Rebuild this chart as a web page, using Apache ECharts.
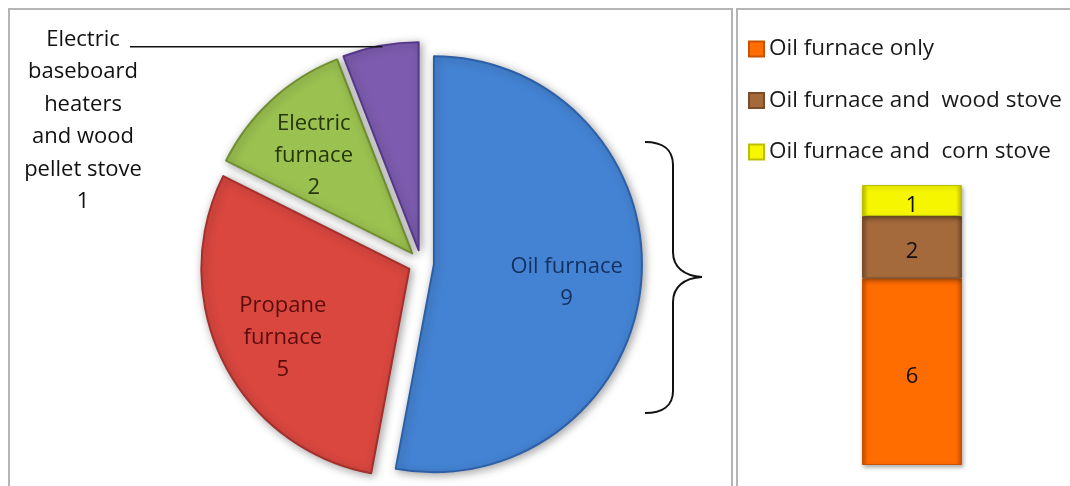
<!DOCTYPE html>
<html>
<head>
<meta charset="utf-8">
<script src="https://cdn.jsdelivr.net/npm/echarts@6/dist/echarts.min.js"></script>
<style>
  html, body { margin: 0; padding: 0; background: #ffffff; }
  #chart { width: 1070px; height: 486px; }
</style>
</head>
<body>
<div id="chart"></div>
<script>
// Heating systems: main pie
const pieNames = ['Oil furnace', 'Propane furnace', 'Electric furnace', 'Electric baseboard heaters and wood pellet stove'];
const pieLabels = ['Oil furnace', 'Propane\nfurnace', 'Electric\nfurnace', 'Electric\nbaseboard\nheaters\nand wood\npellet stove'];
const pieValues = [9, 5, 2, 1];

// Breakdown of the oil furnace homes
const barCategories = ['Oil furnace'];
const barNames = ['Oil furnace only', 'Oil furnace and  wood stove', 'Oil furnace and  corn stove'];
const barValues = [6, 2, 1];

const FONT = 'Open Sans';

const pieFill = ['#4483d3', '#d9473f', '#9bc150', '#7d5caf'];
const pieEdge = ['#2c5fa6', '#a3302c', '#6f9030', '#55388a'];
const pieText = ['#14305e', '#5a0c0c', '#26360a', '#111111'];
// label box padding (top, right, bottom, left) nudging each in-slice label sideways
const pieLabelPad = [[0, 14, 0, 0], [0, 2, 0, 0], [0, 8, 0, 0], [0, 0, 0, 0]];

const barFill = ['#ff6c00', '#a46a3c', '#f6f600'];
const barEdge = ['#c95200', '#7a4c28', '#bdbd00'];

function sliceStyle(i) {
  return {
    color: pieFill[i],
    borderColor: pieEdge[i],
    borderWidth: 2,
    shadowBlur: 8,
    shadowOffsetX: 2,
    shadowOffsetY: 2,
    shadowColor: 'rgba(0,0,0,0.35)'
  };
}

function barStyle(i) {
  return {
    color: {
      type: 'linear', x: 0, y: 0, x2: 1, y2: 0,
      colorStops: [
        { offset: 0, color: barEdge[i] },
        { offset: 0.06, color: barFill[i] },
        { offset: 0.94, color: barFill[i] },
        { offset: 1, color: barEdge[i] }
      ]
    },
    borderColor: barEdge[i],
    borderWidth: 1,
    shadowBlur: 4,
    shadowOffsetX: 1,
    shadowOffsetY: 2,
    shadowColor: 'rgba(0,0,0,0.3)'
  };
}

const PIE_CENTER = [421, 263];
const LABEL_CENTER = [421, 269];
const PIE_R = 208;
const OFFSET = 13;

// slices (all pulled out from the centre)
const mainPieData = pieValues.map((v, i) => {
  const st = sliceStyle(i);
  return {
    name: pieNames[i],
    value: v,
    selected: true,
    itemStyle: st,
    select: { itemStyle: st },
    label: { show: false },
    labelLine: { show: false }
  };
});

// transparent ring carrying the in-slice labels further out than mid-radius
const labelPieData = pieValues.map((v, i) => ({
  name: pieNames[i],
  value: v,
  selected: true,
  itemStyle: { color: 'rgba(0,0,0,0)' },
  select: { itemStyle: { color: 'rgba(0,0,0,0)' } },
  label: {
    show: i !== 3,
    position: 'inside',
    color: pieText[i],
    fontFamily: FONT,
    fontSize: 22,
    lineHeight: 32,
    align: 'center',
    padding: pieLabelPad[i],
    formatter: () => pieLabels[i] + '\n' + v
  },
  labelLine: { show: false }
}));

// smallest slice: label at the left, joined by a leader line to the middle of its arc
const total = pieValues.reduce((a, b) => a + b, 0);
const before = pieValues.slice(0, 3).reduce((a, b) => a + b, 0);
const midDeg = 90 - 360 * (before + pieValues[3] / 2) / total;
const midRad = midDeg * Math.PI / 180;
const arcMid = [
  PIE_CENTER[0] + (PIE_R + OFFSET) * Math.cos(midRad),
  PIE_CENTER[1] - (PIE_R + OFFSET) * Math.sin(midRad)
];
const smallLabel = [
  {
    type: 'line', z: 20, silent: true,
    shape: { x1: arcMid[0] + 2, y1: arcMid[1] + 1, x2: 130, y2: arcMid[1] + 1 },
    style: { stroke: '#111111', lineWidth: 1.6 }
  },
  {
    type: 'text', z: 20, silent: true,
    style: {
      text: pieLabels[3] + '\n' + pieValues[3],
      x: 83, y: 23,
      align: 'center',
      verticalAlign: 'top',
      fontFamily: FONT,
      fontSize: 22,
      lineHeight: 32.5,
      fill: '#111111'
    }
  }
];

const barSeries = barNames.map((name, i) => ({
  name: name,
  type: 'bar',
  stack: 'oil',
  barWidth: '100%',
  data: [barValues[i]],
  itemStyle: barStyle(i),
  label: {
    show: true,
    position: 'inside',
    offset: [0, 5],
    color: '#111111',
    fontFamily: FONT,
    fontSize: 22
  },
  emphasis: { disabled: true }
}));

// curly brace grouping the oil furnace slice
const braceStyle = { fill: 'none', stroke: '#111111', lineWidth: 2 };
const brace = [
  { type: 'bezierCurve', shape: { x1: 645, y1: 142, cpx1: 662, cpy1: 142, cpx2: 673, cpy2: 149, x2: 673, y2: 165 } },
  { type: 'line', shape: { x1: 673, y1: 165, x2: 673, y2: 252 } },
  { type: 'bezierCurve', shape: { x1: 673, y1: 252, cpx1: 673, cpy1: 267, cpx2: 684, cpy2: 276, x2: 702, y2: 277 } },
  { type: 'bezierCurve', shape: { x1: 702, y1: 277, cpx1: 684, cpy1: 278, cpx2: 673, cpy2: 287, x2: 673, y2: 302 } },
  { type: 'line', shape: { x1: 673, y1: 302, x2: 673, y2: 391 } },
  { type: 'bezierCurve', shape: { x1: 673, y1: 391, cpx1: 673, cpy1: 406, cpx2: 662, cpy2: 413, x2: 645, y2: 413 } }
].map(el => Object.assign(el, { z: 10, silent: true, style: braceStyle }));

const option = {
  animation: false,
  backgroundColor: '#ffffff',
  graphic: [
    {
      type: 'rect', z: -10, silent: true,
      shape: { x: 9, y: 9, width: 723, height: 520 },
      style: { fill: 'none', stroke: '#b4b4b4', lineWidth: 2 }
    },
    {
      type: 'rect', z: -10, silent: true,
      shape: { x: 737, y: 9, width: 400, height: 520 },
      style: { fill: 'none', stroke: '#b4b4b4', lineWidth: 2 }
    }
  ].concat(brace, smallLabel),
  legend: {
    data: barNames,
    orient: 'vertical',
    left: 748,
    top: 37,
    padding: 0,
    itemWidth: 15,
    itemHeight: 15,
    itemGap: 27.5,
    icon: 'rect',
    textStyle: {
      fontFamily: FONT,
      fontSize: 22.5,
      lineHeight: 24,
      color: '#1a1a1a'
    }
  },
  grid: { left: 862, top: 185, width: 100, bottom: 21 },
  xAxis: { type: 'category', data: barCategories, show: false },
  yAxis: { type: 'value', min: 0, max: 9, show: false },
  series: [
    {
      type: 'pie',
      center: PIE_CENTER,
      radius: PIE_R,
      startAngle: 90,
      clockwise: true,
      selectedMode: 'multiple',
      selectedOffset: OFFSET,
      avoidLabelOverlap: false,
      emphasis: { scale: false },
      data: mainPieData
    },
    {
      type: 'pie',
      center: LABEL_CENTER,
      radius: PIE_R * 1.32,
      startAngle: 90,
      clockwise: true,
      selectedMode: 'multiple',
      selectedOffset: OFFSET,
      silent: true,
      z: 5,
      avoidLabelOverlap: false,
      emphasis: { disabled: true },
      data: labelPieData
    }
  ].concat(barSeries)
};

const chart = echarts.init(document.getElementById('chart'), null, { renderer: 'canvas' });
chart.setOption(option);
</script>
</body>
</html>
